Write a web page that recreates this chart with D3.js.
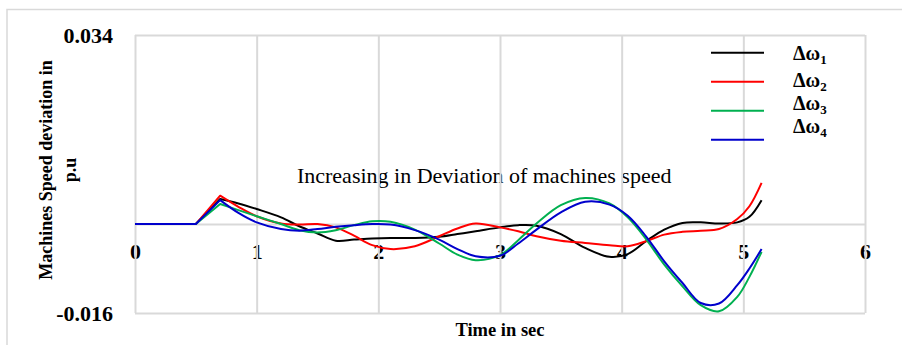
<!DOCTYPE html>
<html>
<head>
<meta charset="utf-8">
<script src="https://cdn.jsdelivr.net/npm/d3@7"></script>
<style>
  body { margin: 0; background: #fff; }
  svg { display: block; }
  svg text { font-family: "Liberation Serif", "Times New Roman", serif; }
</style>
</head>
<body>
<div id="chart"></div>
<script>
// Data (time in sec, speed deviation in p.u)
var time = [0, 0.5, 0.7, 0.85, 1.0, 1.2, 1.35, 1.5, 1.65, 1.8, 1.95, 2.1, 2.3, 2.5, 2.65, 2.8,
  3.0, 3.15, 3.3, 3.5, 3.7, 3.9, 4.05, 4.2, 4.35, 4.5, 4.65, 4.8, 4.95, 5.05, 5.15];

var dw1 = [0, 0, 0.0045, 0.0037, 0.0027, 0.0012, -0.0004, -0.0017, -0.0030, -0.0028, -0.0026, -0.0025, -0.0025, -0.0023, -0.0018, -0.0013,
  -0.0006, -0.0002, -0.0003, -0.0018, -0.0043, -0.0059, -0.0054, -0.0031, -0.0010, 0.0002, 0.0003, 0.0001, 0.0003, 0.0013, 0.0043];
var dw2 = [0, 0, 0.0051, 0.0031, 0.0014, 0.0001, -0.0001, 0.0000, -0.0006, -0.0021, -0.0038, -0.0045, -0.0040, -0.0022, -0.0008, 0.0001,
  -0.0006, -0.0013, -0.0022, -0.0030, -0.0034, -0.0038, -0.0040, -0.0031, -0.0019, -0.0014, -0.0012, -0.0009, 0.0009, 0.0032, 0.0074];
var dw3 = [0, 0, 0.0036, 0.0025, 0.0014, 0.0000, -0.0011, -0.0015, -0.0011, -0.0002, 0.0005, 0.0004, -0.0010, -0.0035, -0.0055, -0.0065,
  -0.0056, -0.0029, 0.0001, 0.0034, 0.0047, 0.0037, 0.0012, -0.0027, -0.0073, -0.0112, -0.0146, -0.0157, -0.0131, -0.0095, -0.0050];
var dw4 = [0, 0, 0.0043, 0.0020, 0.0003, -0.0009, -0.0012, -0.0009, -0.0005, -0.0002, 0.0000, -0.0001, -0.0011, -0.0028, -0.0045, -0.0058,
  -0.0057, -0.0035, -0.0010, 0.0021, 0.0040, 0.0035, 0.0015, -0.0022, -0.0067, -0.0106, -0.0142, -0.0143, -0.0110, -0.0080, -0.0045];

var seriesNames = ["1", "2", "3", "4"];
var seriesColors = ["#000000", "#ff0000", "#00b050", "#0000cc"];
var xTicks = [0, 1, 2, 3, 4, 5, 6];
var yTicks = [-0.016, 0.034];

var series = [dw1, dw2, dw3, dw4].map(function (vals, i) {
  return {
    name: seriesNames[i],
    color: seriesColors[i],
    values: vals.map(function (v, j) { return { t: time[j], v: v }; })
  };
});

var W = 902, H = 345;
var margin = { left: 135, right: 37, top: 35, bottom: 32 };
var width = W - margin.left - margin.right;
var height = H - margin.top - margin.bottom;
var grey = "#d9d9d9";
var serif = "'Liberation Serif', 'Times New Roman', serif";

var svg = d3.select("#chart").append("svg")
  .attr("width", W)
  .attr("height", H);

// chart border
svg.append("rect")
  .attr("x", 7).attr("y", 9.5)
  .attr("width", 905).attr("height", 350)
  .attr("fill", "none")
  .attr("stroke", grey)
  .attr("stroke-width", 1.5);

var g = svg.append("g")
  .attr("transform", "translate(" + margin.left + "," + margin.top + ")");

var x = d3.scaleLinear().domain([0, 6]).range([0, width]);
var y = d3.scaleLinear().domain([-0.016, 0.034]).range([height, 0]);

// text box inside the plot (sits under the gridlines)
g.append("text")
  .attr("x", x(2.87))
  .attr("y", y(0.0074))
  .attr("text-anchor", "middle")
  .attr("font-size", "22px")
  .attr("fill", "#000")
  .text("Increasing in Deviation of machines speed");

// X tick labels just under the zero line
var xLab = g.append("g")
  .attr("transform", "translate(0," + y(0) + ")")
  .call(d3.axisBottom(x).tickValues(xTicks).tickSize(0).tickFormat(d3.format("d")));
xLab.select(".domain").remove();
xLab.selectAll("text")
  .attr("y", 35).attr("dy", 0)
  .attr("font-family", serif)
  .attr("font-size", "22px")
  .attr("font-weight", "bold")
  .attr("fill", "#000");

// Y tick labels
var yLab = g.append("g")
  .call(d3.axisLeft(y).tickValues(yTicks).tickSize(0).tickPadding(22)
    .tickFormat(function (d) { return d.toFixed(3); }));
yLab.select(".domain").remove();
yLab.selectAll("text")
  .attr("font-family", serif)
  .attr("font-size", "22px")
  .attr("font-weight", "bold")
  .attr("fill", "#000");

// gridlines
var xGrid = g.append("g")
  .attr("transform", "translate(0," + height + ")")
  .call(d3.axisBottom(x).tickValues(xTicks).tickSize(-height).tickFormat(""));
var yGrid = g.append("g")
  .call(d3.axisLeft(y).tickValues([-0.016, 0, 0.034]).tickSize(-width).tickFormat(""));
[xGrid, yGrid].forEach(function (a) {
  a.select(".domain").remove();
  a.selectAll("line").attr("stroke", grey).attr("stroke-width", 2);
});

// the lines: the step up to the first peak is straight, the rest is smoothed
var straight = d3.line()
  .x(function (d) { return x(d.t); })
  .y(function (d) { return y(d.v); });
var smooth = d3.line()
  .x(function (d) { return x(d.t); })
  .y(function (d) { return y(d.v); })
  .curve(d3.curveCatmullRom.alpha(0.5));

var sg = g.selectAll(".series")
  .data(series)
  .enter()
  .append("g")
  .attr("class", "series");

sg.append("path")
  .attr("d", function (d) { return straight(d.values.slice(0, 3)) + smooth(d.values.slice(2)).replace(/^M/, "L"); })
  .attr("fill", "none")
  .attr("stroke", function (d) { return d.color; })
  .attr("stroke-width", 2)
  .attr("stroke-linejoin", "round");

// axis titles
svg.append("text")
  .attr("x", 500)
  .attr("y", 336)
  .attr("text-anchor", "middle")
  .attr("font-size", "18.5px")
  .attr("font-weight", "bold")
  .text("Time in sec");

var yTitle = ["Machines Speed deviation in", "p.u"];
svg.selectAll(".ytitle")
  .data(yTitle)
  .enter()
  .append("text")
  .attr("class", "ytitle")
  .attr("transform", function (d, i) { return "translate(" + (52 + i * 24) + ",170) rotate(-90)"; })
  .attr("text-anchor", "middle")
  .attr("font-size", "18px")
  .attr("font-weight", "bold")
  .text(function (d) { return d; });

// legend (lines and text are not lined up in the original)
var legLineY = [52.7, 81.7, 110.7, 139.7];
var legTextY = [60, 86.5, 109.5, 133];
var leg = svg.append("g");
leg.selectAll("line")
  .data(series)
  .enter()
  .append("line")
  .attr("x1", 711).attr("x2", 764)
  .attr("y1", function (d, i) { return legLineY[i]; })
  .attr("y2", function (d, i) { return legLineY[i]; })
  .attr("stroke", function (d) { return d.color; })
  .attr("stroke-width", 2);

var legText = leg.selectAll("text")
  .data(series)
  .enter()
  .append("text")
  .attr("x", 793)
  .attr("y", function (d, i) { return legTextY[i]; })
  .attr("font-size", "20px")
  .attr("font-weight", "bold");
legText.append("tspan").text("\u0394\u03c9");
legText.append("tspan")
  .attr("font-size", "13px")
  .attr("dy", 4)
  .text(function (d) { return d.name; });
</script>
</body>
</html>
